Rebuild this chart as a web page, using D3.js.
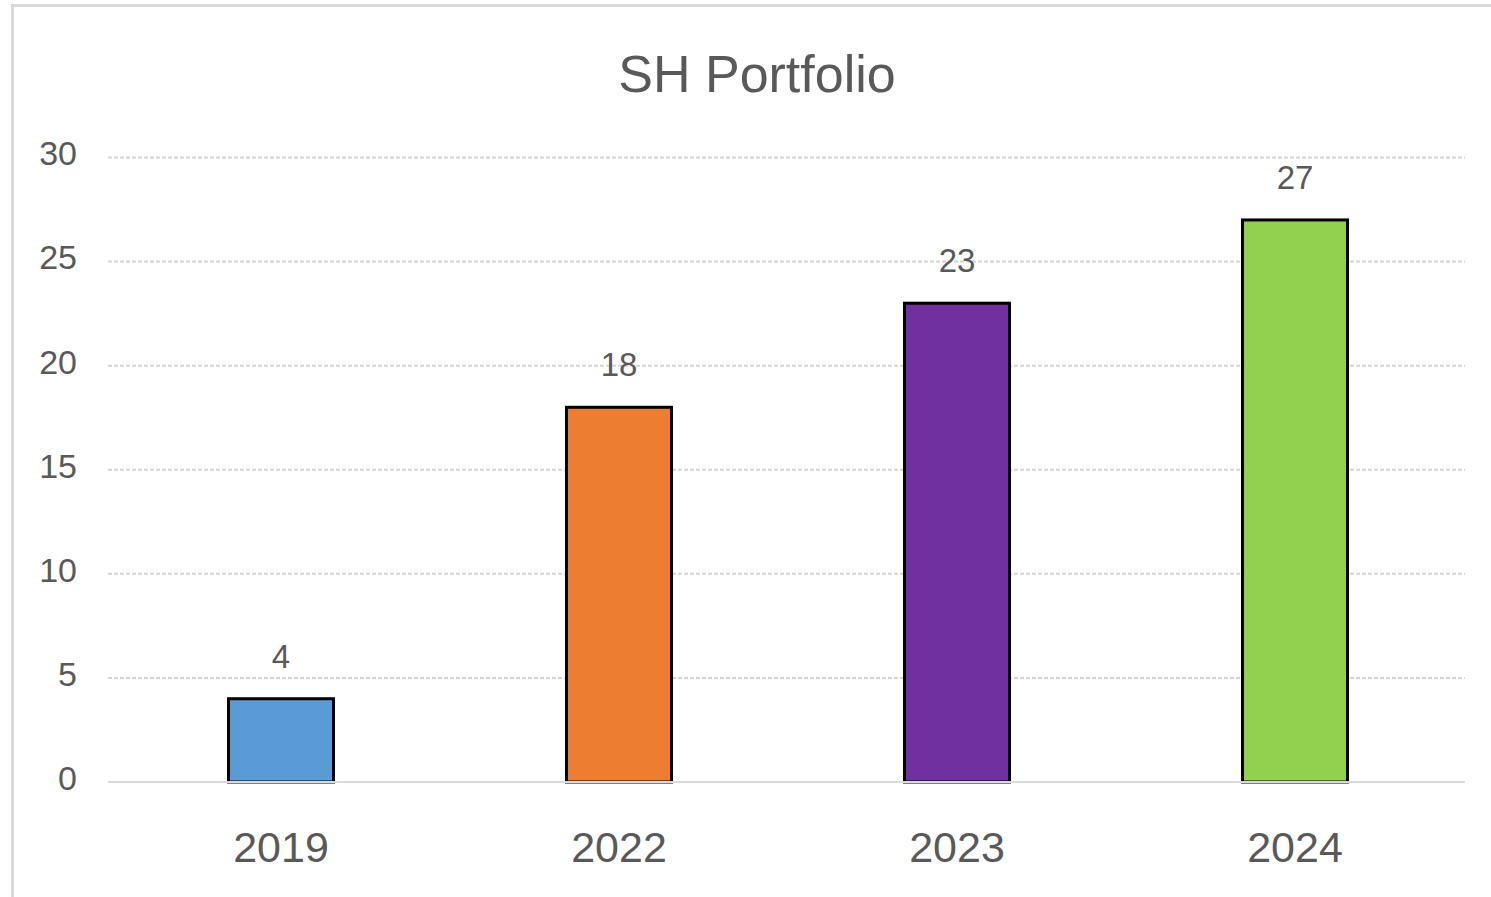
<!DOCTYPE html>
<html lang="en">
<head>
  <meta charset="UTF-8">
  <title>SH Portfolio</title>
  <script src="https://d3js.org/d3.v7.min.js"></script>
  <style>
    body {
      margin: 0;
      background: #fff;
      font-family: "Liberation Sans", Arial, sans-serif;
    }
    text { fill: #595959; }
  </style>
</head>
<body>
  <div id="chart"></div>
  <script>
    // data
    const years = ["2019", "2022", "2023", "2024"];
    const counts = [4, 18, 23, 27];
    const barColors = ["#5B9BD5", "#ED7D31", "#7030A0", "#92D050"];
    const yTicks = [0, 5, 10, 15, 20, 25, 30];

    const width = 1491, height = 897;

    const svg = d3.select("#chart").append("svg")
      .attr("width", width)
      .attr("height", height);

    // chart frame (cropped at right and bottom)
    svg.append("rect")
      .attr("x", 12.5).attr("y", 5.5)
      .attr("width", 1520).attr("height", 940)
      .attr("fill", "none")
      .attr("stroke", "#d9d9d9")
      .attr("stroke-width", 3);

    // title
    svg.append("text")
      .attr("x", 757).attr("y", 92)
      .attr("text-anchor", "middle")
      .attr("font-size", 52)
      .text("SH Portfolio");

    const x = d3.scaleBand().domain(years).range([112, 1464]);
    const y = d3.scaleLinear().domain([0, 30]).range([782, 157.5]);
    const barW = 105;

    // gridlines
    svg.append("g")
      .selectAll("line")
      .data(yTicks.filter(d => d > 0))
      .enter().append("line")
      .attr("x1", 108).attr("x2", 1465)
      .attr("y1", d => y(d)).attr("y2", d => y(d))
      .attr("stroke", "#d4d4d4")
      .attr("stroke-width", 2)
      .attr("stroke-dasharray", "4,2");

    // y axis labels
    svg.append("g")
      .selectAll("text")
      .data(yTicks)
      .enter().append("text")
      .attr("x", 77)
      .attr("y", d => y(d) - 4)
      .attr("dy", "0.35em")
      .attr("text-anchor", "end")
      .attr("font-size", 34)
      .text(d => d);

    // bars
    svg.append("g")
      .selectAll("rect")
      .data(years)
      .enter().append("rect")
      .attr("x", d => x(d) + x.bandwidth() / 2 - barW / 2)
      .attr("y", (d, i) => y(counts[i]))
      .attr("width", barW)
      .attr("height", (d, i) => y(0) - y(counts[i]))
      .attr("fill", (d, i) => barColors[i])
      .attr("stroke", "#000")
      .attr("stroke-width", 3);

    // baseline drawn over the bars
    svg.append("line")
      .attr("x1", 108).attr("x2", 1465)
      .attr("y1", y(0)).attr("y2", y(0))
      .attr("stroke", "#d9d9d9")
      .attr("stroke-width", 2);

    // value labels
    svg.append("g")
      .selectAll("text")
      .data(years)
      .enter().append("text")
      .attr("x", d => x(d) + x.bandwidth() / 2)
      .attr("y", (d, i) => y(counts[i]) - 31)
      .attr("text-anchor", "middle")
      .attr("font-size", 33)
      .text((d, i) => counts[i]);

    // category labels
    svg.append("g")
      .selectAll("text")
      .data(years)
      .enter().append("text")
      .attr("x", d => x(d) + x.bandwidth() / 2)
      .attr("y", 862)
      .attr("text-anchor", "middle")
      .attr("font-size", 43)
      .text(d => d);
  </script>
</body>
</html>
